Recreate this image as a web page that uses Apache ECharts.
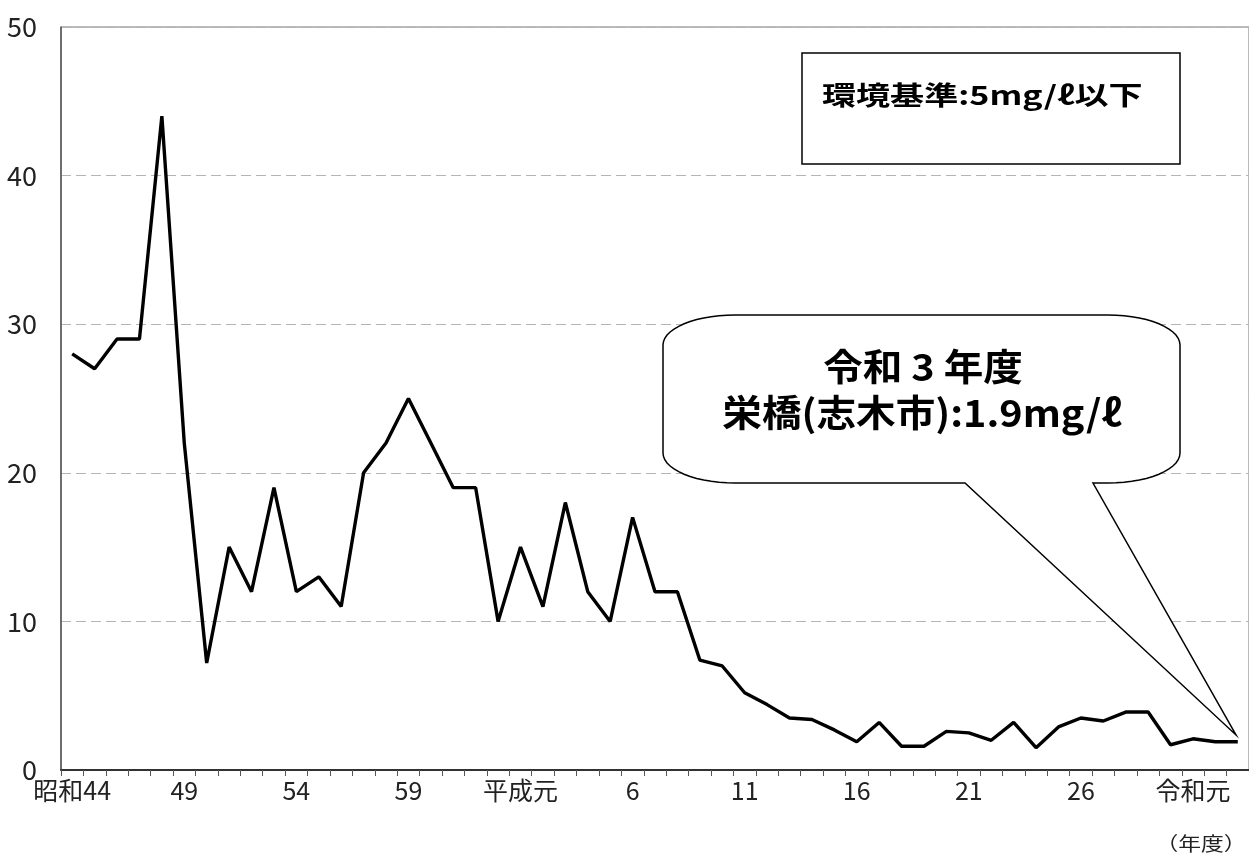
<!DOCTYPE html>
<html><head><meta charset="utf-8">
<script src="https://cdn.jsdelivr.net/npm/echarts@6/dist/echarts.min.js"></script>
<style>html,body{margin:0;padding:0;background:#fff}#c{width:1249px;height:855px}</style>
</head><body><div id="c"></div>
<script>
const categories = ['昭和44','昭和45','昭和46','昭和47','昭和48','昭和49','昭和50','昭和51','昭和52','昭和53','昭和54','昭和55','昭和56','昭和57','昭和58','昭和59','昭和60','昭和61','昭和62','昭和63','平成元','平成2','平成3','平成4','平成5','平成6','平成7','平成8','平成9','平成10','平成11','平成12','平成13','平成14','平成15','平成16','平成17','平成18','平成19','平成20','平成21','平成22','平成23','平成24','平成25','平成26','平成27','平成28','平成29','平成30','令和元','令和2','令和3'];
const bodValues = [28,27,29,29,44,22,7.2,15,12,19,12,13,11,20,22,25,22,19,19,10,15,11,18,12,10,17,12,12,7.4,7.0,5.2,4.4,3.5,3.4,2.7,1.9,3.2,1.6,1.6,2.6,2.5,2.0,3.2,1.5,2.9,3.5,3.3,3.9,3.9,1.7,2.1,1.9,1.9];
const yTicks = {min:0, max:50, interval:10};
const standardText = '環境基準:5mg/ℓ以下';
const calloutLine1 = '令和 3 年度';
const calloutLine2 = '栄橋(志木市):1.9mg/ℓ';
const unitText = '（年度）';

const FONT = "'Noto Sans CJK JP',sans-serif";

function bubblePoints(L, R, T, B, rx, ry, tailL, tailR, tip) {
  const pts = [];
  const n = 14;
  function arc(cx, cy, a0, a1) {
    for (let i = 0; i <= n; i++) {
      const a = a0 + (a1 - a0) * i / n;
      pts.push([cx + rx * Math.cos(a), cy + ry * Math.sin(a)]);
    }
  }
  arc(L + rx, T + ry, Math.PI, Math.PI * 1.5);
  arc(R - rx, T + ry, Math.PI * 1.5, Math.PI * 2);
  arc(R - rx, B - ry, 0, Math.PI * 0.5);
  pts.push([tailR, B]);
  pts.push(tip);
  pts.push([tailL, B]);
  arc(L + rx, B - ry, Math.PI * 0.5, Math.PI);
  return pts;
}

const chart = echarts.init(document.getElementById('c'), null, {renderer:'canvas'});
chart.setOption({
  animation: false,
  backgroundColor: '#fff',
  grid: {left: 61, top: 27, right: -8, bottom: 85, show: true, borderColor: '#777', borderWidth: 1, backgroundColor: 'transparent'},
  xAxis: {
    type: 'category',
    data: categories,
    boundaryGap: true,
    axisLine: {lineStyle: {color: '#333', width: 2}},
    axisTick: {show: true, interval: 0, length: 6, lineStyle: {color: '#555', width: 1}},
    axisLabel: {
      interval: 4, margin: 8, fontSize: 25, color: '#222', fontFamily: FONT,
      formatter: function (v, idx) {
        if (idx === 0 || v.endsWith('元')) return v;
        return v.replace(/^(昭和|平成|令和)/, '');
      }
    },
    splitLine: {show: false}
  },
  yAxis: {
    type: 'value', min: yTicks.min, max: yTicks.max, interval: yTicks.interval,
    axisLine: {show: true, lineStyle: {color: '#555', width: 1.5}},
    axisTick: {show: false},
    axisLabel: {margin: 24, fontSize: 27, color: '#222', fontFamily: FONT},
    splitLine: {show: true, lineStyle: {color: '#b4b4b4', type: [10, 5], width: 1}}
  },
  series: [{
    type: 'line', data: bodValues, symbol: 'none',
    lineStyle: {color: '#000', width: 3.4}, z: 3
  }],
  graphic: [
    {type: 'rect', z: 10, shape: {x: 802, y: 53, width: 378, height: 111},
     style: {fill: '#fff', stroke: '#000', lineWidth: 1.5}},
    {type: 'text', z: 11, x: 822, y: 95, scaleX: 1.31,
     style: {text: standardText, font: "bold 26px " + FONT, fill: '#000',
             textAlign: 'left', textVerticalAlign: 'middle', align: 'left', verticalAlign: 'middle'}},
    {type: 'polygon', z: 10,
     shape: {points: bubblePoints(663, 1180, 315, 483, 72, 30, 965, 1093, [1236, 735])},
     style: {fill: '#fff', stroke: '#000', lineWidth: 1.5}},
    {type: 'text', z: 11, x: 923, y: 367, scaleX: 1.07,
     style: {text: calloutLine1, font: "bold 37px " + FONT, fill: '#000',
             textAlign: 'center', textVerticalAlign: 'middle', align: 'center', verticalAlign: 'middle'}},
    {type: 'text', z: 11, x: 922, y: 413, scaleX: 1.07,
     style: {text: calloutLine2, font: "bold 37px " + FONT, fill: '#000',
             textAlign: 'center', textVerticalAlign: 'middle', align: 'center', verticalAlign: 'middle'}},
    {type: 'text', z: 11, x: 1201, y: 844, scaleX: 1.2,
     style: {text: unitText, font: "19px " + FONT, fill: '#222',
             textAlign: 'center', textVerticalAlign: 'middle', align: 'center', verticalAlign: 'middle'}}
  ]
});
</script></body></html>
